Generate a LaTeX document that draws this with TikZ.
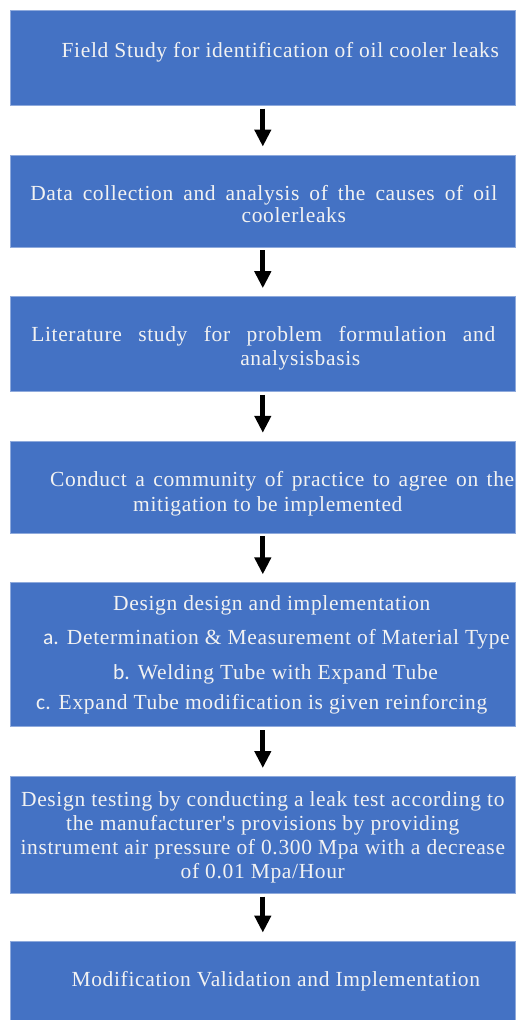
\documentclass[tikz,border=0pt]{standalone}
\usepackage{fontspec}
\setmainfont[LetterSpace=3, Ligatures=TeXOff]{Liberation Serif}
\newfontfamily\itemfont{Carlito}
\usetikzlibrary{positioning,arrows.meta}

\definecolor{boxblue}{HTML}{4472C4}
\definecolor{boxedge}{HTML}{8FAADC}
\definecolor{boxtext}{HTML}{F2F2F2}

\begin{document}
\begin{tikzpicture} [
    x=1pt, y=1pt,
    block/.style    = { rectangle, fill=boxblue, draw=boxedge, line width=0.6pt,
                        minimum width=505pt, inner sep=0pt },
    txt/.style      = { text=boxtext, inner sep=0pt,
                        font=\fontsize{21.5}{24}\selectfont },
    line/.style     = { draw, line width=5pt, -{Triangle[width=16pt,length=17pt]},
                        shorten <=3pt, shorten >=8pt },
  ]
  \useasboundingbox (0,0) rectangle (516,-1020);

  % Define the boxes
  \node[block, minimum height=95pt, anchor=north west] (field) at (10,-10) {};
  \node[block, minimum height=92pt, below=49pt of field] (data) {};
  \node[block, minimum height=95pt, below=49pt of data] (lit) {};
  \node[block, minimum height=92pt, below=49pt of lit] (cop) {};
  \node[block, minimum height=144pt, below=49pt of cop] (design) {};
  \node[block, minimum height=117pt, below=49pt of design] (test) {};
  \node[block, minimum height=95pt, below=47pt of test] (valid) {};

  % Texts in the boxes (base = last line)
  \node[txt, anchor=base] (tfield) at ([xshift=17.5pt, yshift=-47pt]field.north)
    {Field Study for identification of oil cooler leaks};
  \node[txt, anchor=base, align=center] (tdata) at ([xshift=1pt, yshift=-68pt]data.north)
    {\makebox[467pt][s]{Data collection and analysis of the causes of oil}\\[-2pt]
     \hspace*{60pt}coolerleaks};
  \node[txt, anchor=base, align=center] (tlit) at ([xshift=0.5pt, yshift=-69pt]lit.north)
    {\makebox[464pt][s]{Literature study for problem formulation and}\\
     \hspace*{74pt}analysisbasis};
  \node[txt, anchor=base west, align=left] (tcop) at ([xshift=40pt, yshift=-71pt]cop.north west)
    {\makebox[464pt][s]{Conduct a community of practice to agree on the}\\[1pt]
     \hspace*{83pt}mitigation to be implemented};
  \node[txt, anchor=base west, align=left] (tdesign) at ([xshift=26pt, yshift=-127pt]design.north west)
    {\hspace*{77pt}Design design and implementation\\[10pt]
     \hspace*{7pt}{\itemfont a.} Determination \& Measurement of Material Type\\[11pt]
     \hspace*{77pt}{\itemfont b.} Welding Tube with Expand Tube\\[6pt]
     {\itemfont c.} Expand Tube modification is given reinforcing};
  \node[txt, anchor=base, align=center] (ttest) at ([yshift=-102pt]test.north)
    {Design testing by conducting a leak test according to\\
     the manufacturer's provisions by providing\\
     instrument air pressure of 0.300 Mpa with a decrease\\
     of 0.01 Mpa/Hour};
  \node[txt, anchor=base] (tvalid) at ([xshift=13pt, yshift=-46pt]valid.north)
    {Modification Validation and Implementation};

  % connect the boxes
  \path [line] (field) -- (data);
  \path [line] (data) -- (lit);
  \path [line] (lit) -- (cop);
  \path [line] (cop) -- (design);
  \path [line] (design) -- (test);
  \path [line] (test) -- (valid);
\end{tikzpicture}
\end{document}
